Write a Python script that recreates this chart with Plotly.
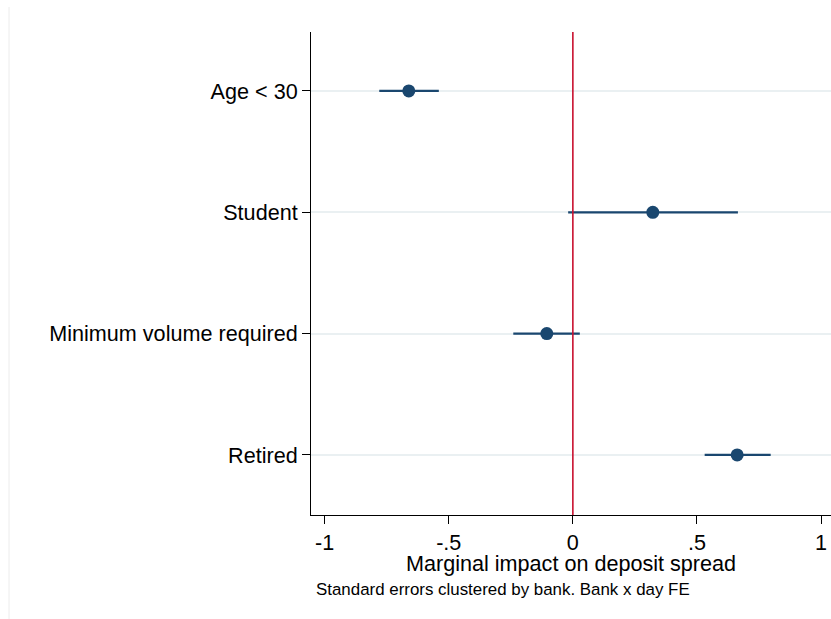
import plotly.graph_objects as go

categories = ["Age < 30", "Student", "Minimum volume required", "Retired"]
estimates = [-0.661, 0.322, -0.105, 0.662]
ci_low = [-0.780, -0.019, -0.240, 0.531]
ci_high = [-0.540, 0.665, 0.028, 0.797]
x_tickvals = [-1, -0.5, 0, 0.5, 1]
x_ticktext = ["-1", "-.5", "0", ".5", "1"]
x_title = "Marginal impact on deposit spread"
note = "Standard errors clustered by bank. Bank x day FE"

positions = list(range(1, len(categories) + 1))
err_plus = [h - e for h, e in zip(ci_high, estimates)]
err_minus = [e - l for e, l in zip(estimates, ci_low)]

NAVY = "#1a476f"
FONT = "Liberation Sans, Arial, sans-serif"

fig = go.Figure()
fig.add_trace(go.Scatter(
    x=estimates, y=positions, mode="markers",
    marker=dict(color=NAVY, size=13),
    error_x=dict(type="data", symmetric=False, array=err_plus, arrayminus=err_minus,
                 color=NAVY, thickness=2.2, width=0),
    showlegend=False, hoverinfo="x+y",
))

fig.add_vline(x=0, line=dict(color="#c8102e", width=1.6))

# faint graph-region border on the left
fig.add_shape(type="line", xref="paper", yref="paper",
              x0=(9 - 311) / 520, x1=(9 - 311) / 520, y0=(515 - 7) / 483, y1=-0.3,
              line=dict(color="#ececec", width=1))

fig.update_layout(
    width=831, height=619,
    margin=dict(l=311, r=0, t=32, b=104),
    paper_bgcolor="white", plot_bgcolor="white",
    font=dict(family=FONT, size=21.6, color="black"),
    xaxis=dict(range=[-1.055, 1.04], tickvals=x_tickvals, ticktext=x_ticktext,
               showgrid=False, zeroline=False, showline=True, linecolor="black", linewidth=1,
               ticks="outside", ticklen=8, tickwidth=1, tickcolor="black",
               tickfont=dict(size=21.6)),
    yaxis=dict(range=[len(categories) + 0.495, 0.514], tickvals=positions, ticktext=categories,
               showgrid=True, gridcolor="#eaf0f2", gridwidth=2, zeroline=False,
               showline=True, linecolor="black", linewidth=1,
               ticks="outside", ticklen=8, tickwidth=1, tickcolor="black",
               tickfont=dict(size=21.6)),
    annotations=[
        dict(text=x_title, xref="paper", yref="paper", x=0.5, y=(515 - 563) / 483,
             xanchor="center", yanchor="middle", showarrow=False, font=dict(size=21.6)),
        dict(text=note, xref="paper", yref="paper", x=(314 - 311) / 520, y=(515 - 589) / 483,
             xanchor="left", yanchor="middle", showarrow=False, font=dict(size=16.9)),
    ],
)

fig.write_html("out.html")
